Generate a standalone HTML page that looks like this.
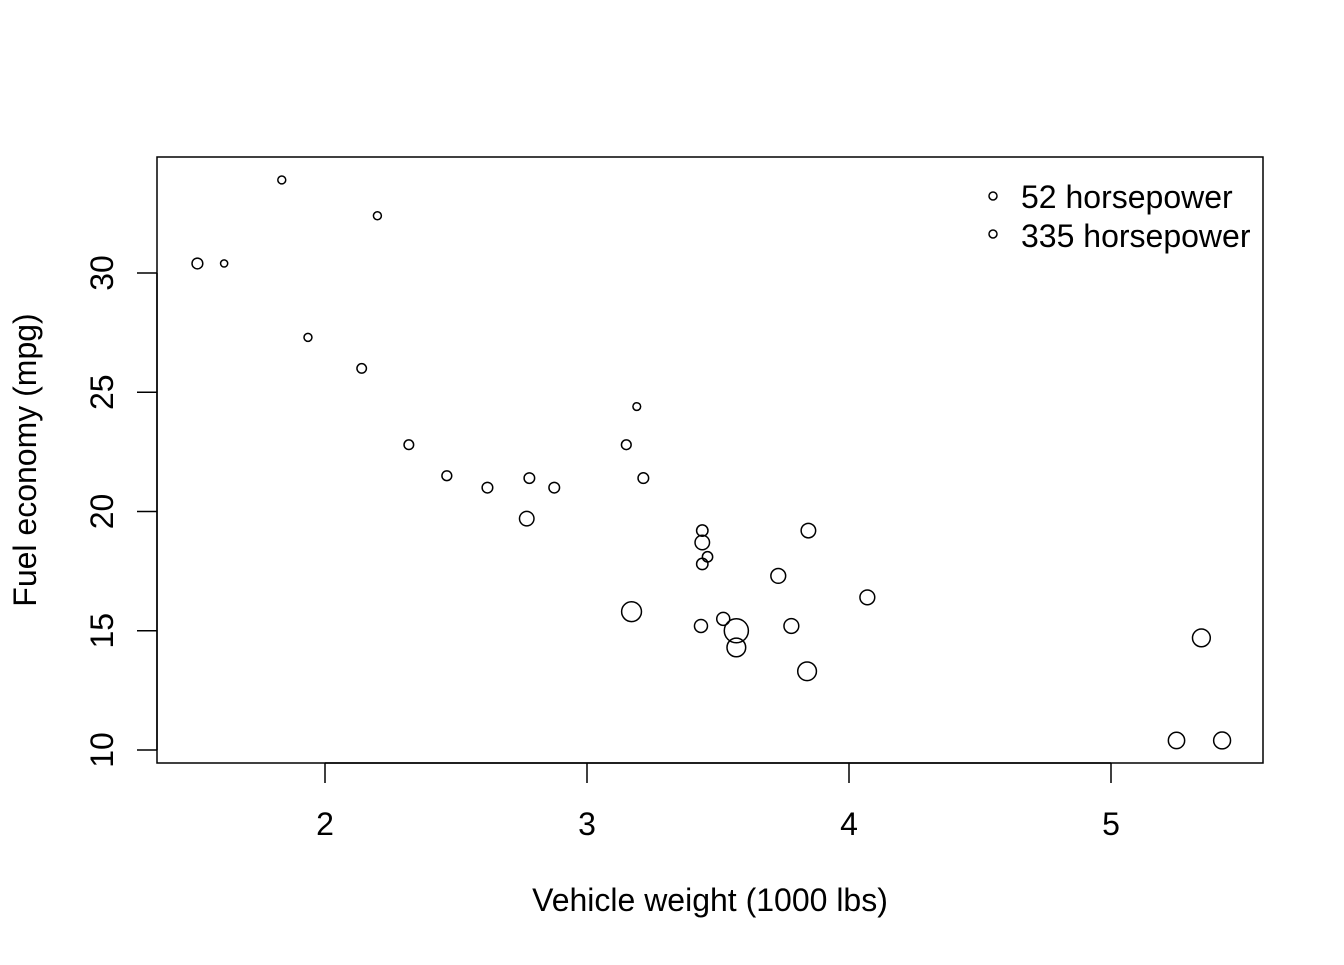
<!DOCTYPE html>
<html><head><meta charset="utf-8">
<style>
html,body{margin:0;padding:0;background:#fff;}
svg text{font-family:"Liberation Sans",Arial,sans-serif;fill:#000;}
</style></head>
<body>
<svg id="chart" width="1344" height="960" xmlns="http://www.w3.org/2000/svg">
<rect x="157" y="157" width="1106" height="606" fill="none" stroke="#000" stroke-width="1.5"/>
<g id="xaxis"></g>
<g id="yaxis"></g>
<g id="points"></g>
<text x="710" y="911" font-size="32" text-anchor="middle">Vehicle weight (1000 lbs)</text>
<text x="0" y="0" font-size="32" text-anchor="middle" transform="translate(36,460) rotate(-90)">Fuel economy (mpg)</text>
<g>
<circle cx="993" cy="196" r="4" fill="none" stroke="#000" stroke-width="1.5"/>
<text x="1021" y="208" font-size="32">52 horsepower</text>
<circle cx="993" cy="234" r="4" fill="none" stroke="#000" stroke-width="1.5"/>
<text x="1021" y="247" font-size="32">335 horsepower</text>
</g>
</svg>
<script>
const weights=[2.620,2.875,2.320,3.215,3.440,3.460,3.570,3.190,3.150,3.440,3.440,4.070,3.730,3.780,5.250,5.424,5.345,2.200,1.615,1.835,2.465,3.520,3.435,3.840,3.845,1.935,2.140,1.513,3.170,2.770,3.570,2.780];
const mpgs=[21.0,21.0,22.8,21.4,18.7,18.1,14.3,24.4,22.8,19.2,17.8,16.4,17.3,15.2,10.4,10.4,14.7,32.4,30.4,33.9,21.5,15.5,15.2,13.3,19.2,27.3,26.0,30.4,15.8,19.7,15.0,21.4];
const horsepower=[110,110,93,110,175,105,245,62,95,123,123,180,180,180,205,215,230,66,52,65,97,150,150,245,175,66,91,113,264,175,335,109];
const xTicks=[2,3,4,5];
const yTicks=[10,15,20,25,30];
const NS="http://www.w3.org/2000/svg";
function xs(v){return 325+(v-2)*262;}
function ys(v){return 750-(v-10)*23.85;}
function rs(h){return 2+h*0.03;}
function mk(t,a,p){const e=document.createElementNS(NS,t);for(const k in a)e.setAttribute(k,a[k]);p.appendChild(e);return e;}
const xa=document.getElementById('xaxis'),ya=document.getElementById('yaxis'),pg=document.getElementById('points');
mk('line',{x1:xs(xTicks[0]),x2:xs(xTicks[xTicks.length-1]),y1:763,y2:763,stroke:'#000','stroke-width':1.5},xa);
xTicks.forEach(t=>{
 const l=mk('line',{x1:xs(t),x2:xs(t),y1:763,y2:783,stroke:'#000','stroke-width':1.5},xa);
 
 
 const tx=mk('text',{x:xs(t),y:835,'font-size':32,'text-anchor':'middle'},xa);tx.textContent=t;
 
 
});
mk('line',{x1:157,x2:157,y1:ys(yTicks[0]),y2:ys(yTicks[yTicks.length-1]),stroke:'#000','stroke-width':1.5},ya);
yTicks.forEach(t=>{
 const l=mk('line',{x1:137,x2:157,y1:ys(t),y2:ys(t),stroke:'#000','stroke-width':1.5},ya);
 
 
 const tx=mk('text',{x:0,y:0,'font-size':32,'text-anchor':'middle',transform:`translate(113,${ys(t)}) rotate(-90)`},ya);tx.textContent=t;
 
 
});
weights.forEach((w,i)=>{
 const c=mk('circle',{cx:xs(w),cy:ys(mpgs[i]),r:rs(horsepower[i]),fill:'none',stroke:'#000','stroke-width':1.5},pg);
 
 
});
</script>
</body></html>
